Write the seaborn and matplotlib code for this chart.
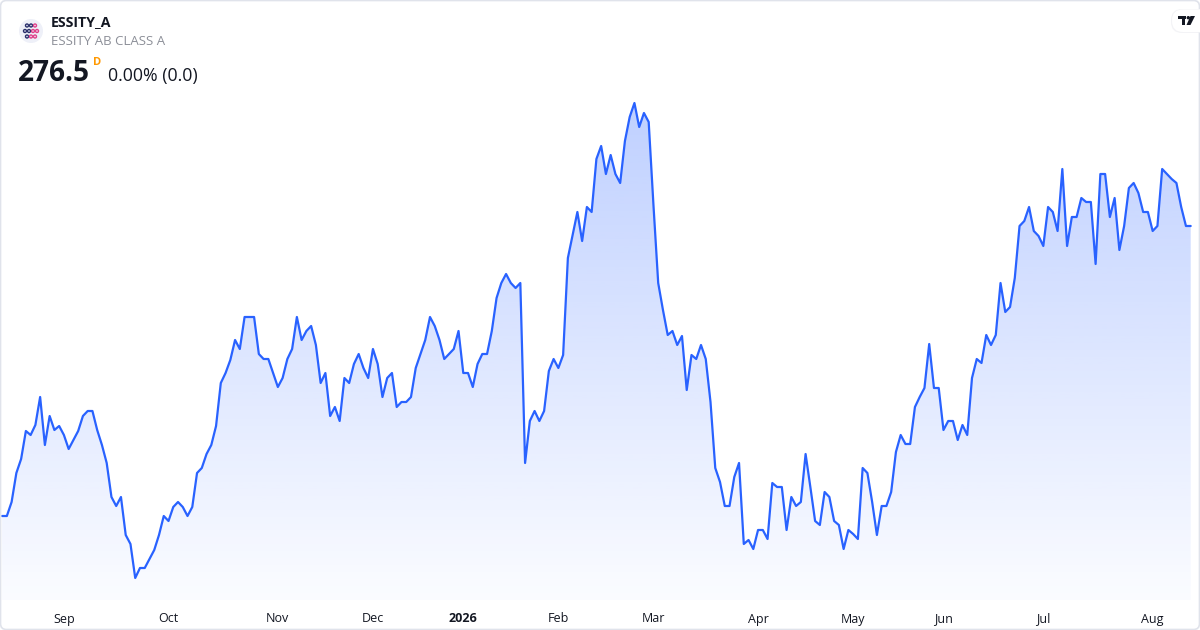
import numpy as np
import pandas as pd
import matplotlib
matplotlib.use("Agg")
import matplotlib.pyplot as plt
import seaborn as sns
from matplotlib.patches import FancyBboxPatch, Circle, Polygon, Rectangle
from matplotlib.colors import to_rgb

# ---------------- data ----------------
ticker = "ESSITY_A"
company = "ESSITY AB CLASS A"
last_price = "276.5"
change_text = "0.00% (0.0)"
start_date = "2025-08-13"
holidays = ["2025-12-24", "2025-12-25", "2025-12-26", "2025-12-31",
            "2026-01-01", "2026-01-06", "2026-04-03", "2026-04-06",
            "2026-05-01", "2026-05-14", "2026-06-19"]
month_labels = ["Sep", "Oct", "Nov", "Dec", "2026", "Feb", "Mar",
                "Apr", "May", "Jun", "Jul", "Aug"]
close = [
    247.5, 247.5, 248.9, 251.8, 253.2, 256.0, 255.6, 256.6, 259.4, 254.6,
    257.5, 256.1, 256.5, 255.6, 254.2, 255.1, 256.0, 257.5, 258.0, 258.0,
    256.1, 254.6, 252.8, 249.4, 248.5, 249.4, 245.6, 244.7, 241.3, 242.3,
    242.3, 243.2, 244.1, 245.6, 247.5, 247.0, 248.4, 248.9, 248.4, 247.5,
    248.4, 251.8, 252.3, 253.7, 254.6, 256.5, 260.8, 261.8, 263.1, 265.1,
    264.2, 267.4, 267.4, 267.4, 263.7, 263.2, 263.2, 261.8, 260.4, 261.3,
    263.2, 264.2, 267.4, 265.1, 266.0, 266.5, 264.6, 260.8, 261.8, 257.5,
    258.4, 257.0, 261.3, 260.8, 262.7, 263.7, 262.3, 261.3, 264.2, 262.7,
    259.4, 261.3, 261.8, 258.4, 258.9, 258.9, 259.4, 262.3, 263.7, 265.1,
    267.4, 266.5, 265.1, 263.2, 263.7, 264.2, 266.0, 261.8, 261.8, 260.4,
    262.7, 263.7, 263.7, 266.0, 269.3, 270.8, 271.7, 270.8, 270.3, 270.8,
    252.8, 257.0, 258.0, 257.0, 258.0, 262.0, 263.2, 262.3, 263.6, 273.3,
    275.6, 277.9, 275.0, 278.4, 277.9, 283.2, 284.5, 281.7, 283.6, 281.7,
    280.8, 285.0, 287.4, 288.8, 286.4, 287.8, 286.9, 278.6, 270.8, 268.1,
    265.6, 266.0, 264.6, 265.5, 260.1, 263.6, 263.2, 264.6, 263.2, 258.9,
    252.3, 250.9, 248.5, 248.5, 251.4, 252.8, 244.7, 245.1, 244.2, 246.1,
    246.1, 245.2, 250.8, 250.4, 250.4, 246.1, 249.4, 248.5, 248.9, 253.7,
    250.4, 247.0, 246.6, 249.9, 249.4, 247.0, 246.6, 244.2, 246.1, 245.7,
    245.2, 252.3, 251.8, 248.9, 245.6, 248.5, 248.5, 249.9, 253.9, 255.6,
    254.7, 254.7, 258.4, 259.4, 260.3, 264.7, 260.3, 260.3, 256.1, 257.0,
    257.0, 255.1, 256.6, 255.6, 261.3, 263.2, 262.8, 265.6, 264.6, 265.6,
    270.8, 267.9, 268.4, 271.3, 276.5, 277.0, 278.4, 276.0, 275.5, 274.5,
    278.4, 277.9, 276.0, 282.2, 274.5, 277.4, 277.4, 279.3, 278.9, 278.9,
    272.7, 281.7, 281.7, 277.4, 279.3, 274.1, 276.5, 280.3, 280.8, 279.8,
    277.9, 277.9, 276.0, 276.5, 282.2, 281.7, 281.2, 280.8, 278.4, 276.5,
    276.5,
]

# ---------------- derived ----------------
dates = pd.bdate_range(start_date, periods=len(close) + 20, freq="C",
                       holidays=holidays)[:len(close)]
df = pd.DataFrame({"idx": np.arange(len(close)), "date": dates, "close": close})
first_of_month = df.groupby(df["date"].dt.to_period("M"))["idx"].min().values[1:]

LINE = "#2962FF"
W, H = 1200, 630

sns.set_theme(style="white")
plt.rcParams["font.family"] = ["Open Sans", "DejaVu Sans"]

fig = plt.figure(figsize=(W / 100, H / 100), dpi=100)
fig.patch.set_facecolor("white")

# main chart axes: spans x 0..1200 px, y 0..600 px (image coords)
ax = fig.add_axes([0, 30 / H, 1, 600 / H])
ax.set_facecolor("none")
step = 4.7544
x0px = 2.1
ax.set_xlim(-x0px / step, (W - x0px) / step)
ymin = 276.5 + (226 - 600) / 10
ymax = 276.5 + (226 - 0) / 10
ax.set_ylim(ymin, ymax)

# gradient fill under the line
poly = ax.fill_between(df["idx"], df["close"], ymin, color="none", lw=0)
top_val = max(close)
ny = 300
alphas = np.linspace(0.30, 0.02, ny)[:, None]
rgb = np.array(to_rgb(LINE))
img = np.zeros((ny, 1, 4))
img[..., :3] = rgb
img[..., 3] = alphas
im = ax.imshow(img, aspect="auto", extent=[df["idx"].min(), df["idx"].max(), ymin, top_val],
               origin="upper", zorder=1, interpolation="bilinear")
im.set_clip_path(poly.get_paths()[0], transform=ax.transData)

sns.lineplot(data=df, x="idx", y="close", ax=ax, color=LINE, linewidth=1.6, zorder=3)

ax.set_xlabel("")
ax.set_ylabel("")
ax.set_yticks([])
ax.set_xticks(first_of_month)
ax.set_xticklabels(month_labels)
for lab in ax.get_xticklabels():
    lab.set_color("#131722")
    lab.set_fontsize(9)
    if lab.get_text().isdigit():
        lab.set_fontweight("bold")
ax.tick_params(axis="x", length=0, pad=9)
for s in ax.spines.values():
    s.set_visible(False)

# overlay in pixel coordinates for header and frame
ov = fig.add_axes([0, 0, 1, 1])
ov.set_xlim(0, W)
ov.set_ylim(H, 0)
ov.axis("off")
ov.set_facecolor("none")

ov.add_patch(FancyBboxPatch((0.5, 0.5), W - 1, H - 1,
                            boxstyle="round,pad=0,rounding_size=6",
                            fc="none", ec="#e0e3eb", lw=1.2))

# logo
ov.add_patch(Circle((31, 31), 12, fc="#eef0f8", ec="none"))
for (cx, cy, c) in [(27, 25.5, "#2a2f6b"), (31, 25.5, "#2a2f6b"), (35, 25.5, "#e0408a"),
                    (25, 31, "#2a2f6b"), (29, 31, "#2a2f6b"), (33, 31, "#e0408a"), (37, 31, "#e0408a"),
                    (27, 36.5, "#2a2f6b"), (31, 36.5, "#e0408a"), (35, 36.5, "#e0408a")]:
    ov.add_patch(Circle((cx, cy), 1.5, fc="none", ec=c, lw=1.0))

ov.text(51, 26, ticker, fontsize=10.2, fontweight="bold", color="#131722", va="baseline")
ov.text(51, 45, company, fontsize=9.5, color="#8c8f98", va="baseline")
ov.text(18, 81, last_price, fontsize=20.2, fontweight="bold", color="#131722", va="baseline")
ov.text(93, 65, "D", fontsize=8, fontweight="bold", color="#ff9800", va="baseline")
ov.text(108, 81, change_text, fontsize=12.8, color="#131722", va="baseline")

# TradingView badge (top right)
ov.add_patch(FancyBboxPatch((1171, 9), 40, 24, boxstyle="round,pad=0,rounding_size=11",
                            fc="#f0f1f4", ec="none", alpha=0.8))
ov.add_patch(FancyBboxPatch((1172, 9.5), 40, 22.5, boxstyle="round,pad=0,rounding_size=11",
                            fc="white", ec="none"))
ov.add_patch(Rectangle((1178, 16), 8, 3.2, fc="#131722", ec="none"))
ov.add_patch(Rectangle((1182, 16), 3.2, 9, fc="#131722", ec="none"))
ov.add_patch(Circle((1188.3, 17.7), 1.7, fc="#131722", ec="none"))
ov.add_patch(Polygon([(1190.5, 16), (1195, 16), (1190.5, 25), (1186.5, 25)],
                     closed=True, fc="#131722", ec="none"))

fig.savefig("out.png", dpi=100, facecolor="white")
